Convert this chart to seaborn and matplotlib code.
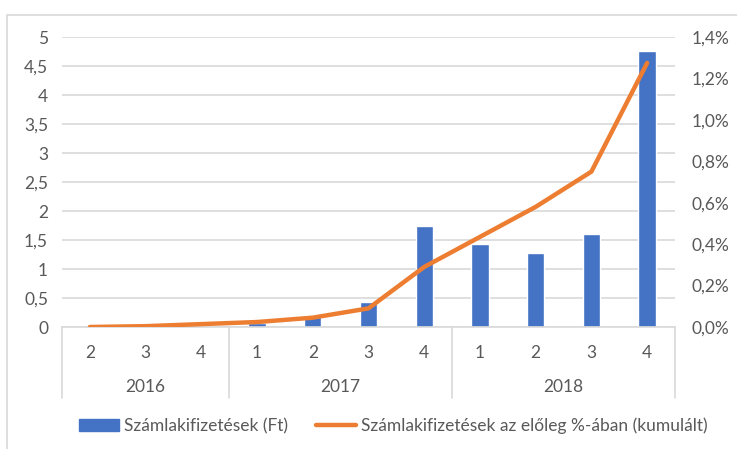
import numpy as np
import pandas as pd
import seaborn as sns
import matplotlib.pyplot as plt
from matplotlib.ticker import FuncFormatter, MultipleLocator
from matplotlib.patches import Rectangle, Patch
from matplotlib.lines import Line2D

years = ["2016", "2016", "2016", "2017", "2017", "2017", "2017", "2018", "2018", "2018", "2018"]
quarters = ["2", "3", "4", "1", "2", "3", "4", "1", "2", "3", "4"]
payments = [0.0, 0.0, 0.0, 0.07, 0.19, 0.43, 1.74, 1.43, 1.27, 1.60, 4.76]
cum_pct = [0.0, 0.004, 0.014, 0.024, 0.045, 0.09, 0.29, 0.435, 0.58, 0.75, 1.275]

bar_label = "Számlakifizetések (Ft)"
line_label = "Számlakifizetések az előleg %-ában (kumulált)"

df = pd.DataFrame({"key": [y + "-" + q for y, q in zip(years, quarters)],
                   "pos": np.arange(len(years)),
                   "payments": payments, "pct": cum_pct})

sns.set_theme(style="white")
plt.rcParams["font.family"] = ["Lato", "DejaVu Sans"]
grey = "#595959"
blue = "#4472C4"
orange = "#ED7D31"
fs = 12.5

fig = plt.figure(figsize=(7.37, 4.49), dpi=100)
ax = fig.add_axes([62 / 737, 1 - 327 / 449, 613 / 737, 290 / 449])
fig.patches.append(Rectangle((7 / 737, -0.1), 1.2, 1.1 - 15 / 449, transform=fig.transFigure,
                             fill=False, edgecolor="#D9D9D9", linewidth=1.2))

sns.barplot(data=df, x="key", y="payments", color=blue, width=0.31, saturation=1, ax=ax)
ax.set_xlim(-0.5, 10.5)
ax.set_ylim(0, 5)
ax.yaxis.set_major_locator(MultipleLocator(0.5))
ax.yaxis.set_major_formatter(FuncFormatter(lambda v, p: ("%g" % v).replace(".", ",")))
ax.grid(axis="y", color="#D9D9D9", linewidth=1.2)
ax.set_axisbelow(True)
ax.set_xlabel("")
ax.set_ylabel("")
ax.set_xticks(range(len(quarters)))
ax.set_xticklabels(quarters)
ax.tick_params(axis="x", length=0, pad=13, labelsize=fs, colors=grey)
ax.tick_params(axis="y", length=0, pad=10, labelsize=fs, colors=grey)
for s in ["top", "right", "left"]:
    ax.spines[s].set_visible(False)
ax.spines["bottom"].set_color("#D9D9D9")
ax.spines["bottom"].set_linewidth(1.2)

ax2 = ax.twinx()
sns.lineplot(data=df, x="pos", y="pct", color=orange, linewidth=3.2, ax=ax2)
ax2.set_xlim(-0.5, 10.5)
ax2.set_ylim(0, 1.4)
ax2.yaxis.set_major_locator(MultipleLocator(0.2))
ax2.yaxis.set_major_formatter(FuncFormatter(lambda v, p: ("%.1f%%" % v).replace(".", ",")))
ax2.tick_params(axis="y", length=0, pad=12, labelsize=fs, colors=grey)
ax2.set_xlabel("")
ax2.set_ylabel("")
for s in ["top", "right", "left", "bottom"]:
    ax2.spines[s].set_visible(False)

# year level of the category axis
trans = ax.get_xaxis_transform()
for xb in [-0.5, 2.5, 6.5, 10.5]:
    ax.plot([xb, xb], [0, -71 / 290], color="#D9D9D9", linewidth=1.2, transform=trans, clip_on=False)
for yr, xc in [("2016", 1.0), ("2017", 4.5), ("2018", 8.5)]:
    ax.text(xc, -60 / 290, yr, transform=trans, ha="center", va="center", fontsize=fs, color=grey)

handles = [Patch(color=blue), Line2D([0], [0], color=orange, linewidth=3.2)]
fig.legend(handles, [bar_label, line_label], loc="center", bbox_to_anchor=(0.534, 1 - 426 / 449),
           ncol=2, frameon=False, fontsize=fs, labelcolor=grey, handlelength=2.3,
           columnspacing=1.6, handletextpad=0.3)

fig.savefig("out.png", dpi=100)
